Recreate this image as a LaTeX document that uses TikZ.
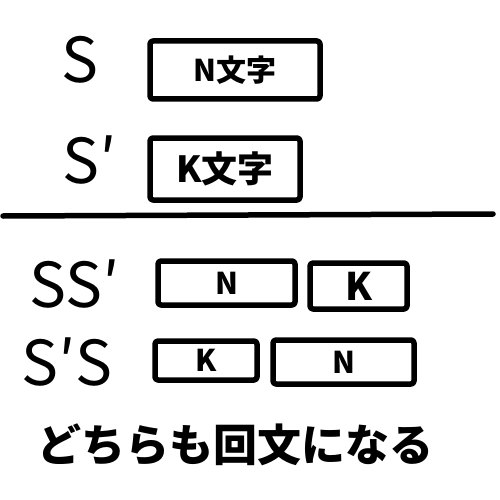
\documentclass[tikz,border=0pt]{standalone}
\usepackage{fontspec}
\setmainfont{Noto Sans CJK JP}
\begin{document}
\begin{tikzpicture}[x=1pt,y=-1pt,
  ink/.style={line width=5.5pt,line cap=round,line join=round},
  sbox/.style={ink,draw,rectangle,rounded corners=3pt,inner sep=0pt,anchor=center},
  biglab/.style={font=\fontsize{62}{62}\selectfont,inner sep=0pt,anchor=center},
  boxtxt/.style={font=\bfseries\fontsize{30}{30}\selectfont}]
\useasboundingbox (0,0) rectangle (500,500);
% top definitions
\node[biglab] (s) at (80,60) {S};
\node[sbox,minimum width=170pt,minimum height=58pt,boxtxt] (bs) at (235,70) {N文字};
\node[biglab] (sp) at (90,160) {S′};
\node[sbox,minimum width=150pt,minimum height=62pt,font=\bfseries\fontsize{36}{36}\selectfont] (bsp) at (225,169) {K文字};
% separator
\coordinate (l1) at (3,216);
\coordinate (l2) at (493,214);
\draw[ink] (l1) -- (l2);
% SS'
\node[biglab] (ssp) at (75,284) {SS′};
\node[sbox,minimum width=137pt,minimum height=44pt,boxtxt] (r1n) at (226.5,283) {N};
\node[sbox,minimum width=97pt,minimum height=46pt,font=\bfseries\fontsize{38}{38}\selectfont] (r1k) at (358.5,286) {K};
% S'S
\node[biglab] (sps) at (67,362) {S′S};
\node[sbox,minimum width=102pt,minimum height=39pt,boxtxt] (r2k) at (206,360.5) {K};
\node[sbox,minimum width=141pt,minimum height=44pt,boxtxt] (r2n) at (343.5,362) {N};
% conclusion
\node[font=\bfseries\fontsize{44}{44}\selectfont,inner sep=0pt] (concl) at (235,445) {どちらも回文になる};
\end{tikzpicture}
\end{document}
